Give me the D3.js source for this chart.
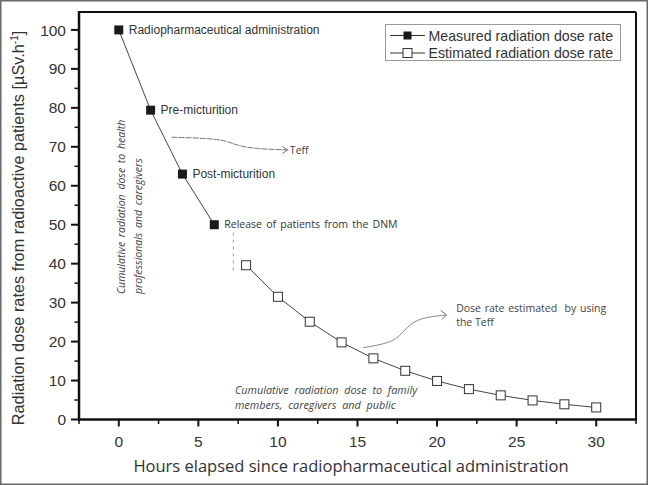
<!DOCTYPE html>
<html><head><meta charset="utf-8">
<script src="https://cdn.jsdelivr.net/npm/d3@7"></script>
<style>html,body{margin:0;padding:0;background:#fff;}svg{display:block;}</style>
</head><body>
<script>
// ---- data ----
const measuredHours = [0, 2, 4, 6];
const measuredRates = [100, 79.4, 63, 50];
const estimatedHours = [8, 10, 12, 14, 16, 18, 20, 22, 24, 26, 28, 30];
const estimatedRates = [39.6, 31.5, 25.1, 19.8, 15.7, 12.5, 9.9, 7.8, 6.2, 4.9, 3.9, 3.1];
const pointLabels = ["Radiopharmaceutical administration", "Pre-micturition", "Post-micturition", "Release of patients from the DNM"];
const xTickValues = [0, 5, 10, 15, 20, 25, 30];
const yTickValues = [0, 10, 20, 30, 40, 50, 60, 70, 80, 90, 100];
const seriesNames = ["Measured radiation dose rate", "Estimated radiation dose rate"];

const W = 648, H = 485;
const svg = d3.select("body").append("svg").attr("width", W).attr("height", H);

// outer frame
svg.append("rect").attr("x", 0.75).attr("y", 0.75).attr("width", W - 1.5).attr("height", H - 1.5)
  .attr("fill", "#fff").attr("stroke", "#6a6a6a").attr("stroke-width", 1.5);

const x = d3.scaleLinear().domain([-2.5, 32.5]).range([79, 636]);
const y = d3.scaleLinear().domain([0, 104.6]).range([419.5, 12]);

const textCol = "#333";
const lineCol = "#444";

// plot frame (top/right)
svg.append("line").attr("x1", 79).attr("x2", 636).attr("y1", 12).attr("y2", 12).attr("stroke", "#111").attr("stroke-width", 2);
svg.append("line").attr("x1", 636).attr("x2", 636).attr("y1", 12).attr("y2", 419.5).attr("stroke", "#111").attr("stroke-width", 2);

// x axis
const xMinor = d3.range(-2.5, 32.6, 2.5).filter(v => !xTickValues.includes(v));
const gx = svg.append("g").attr("transform", "translate(0,419.5)");
gx.append("line").attr("x1", 78).attr("x2", 637).attr("stroke", "#111").attr("stroke-width", 2.5);
gx.selectAll(".mj").data(xTickValues).join("line").attr("x1", d => x(d)).attr("x2", d => x(d))
  .attr("y1", 0).attr("y2", 7).attr("stroke", "#111").attr("stroke-width", 2);
gx.selectAll(".mn").data(xMinor).join("line").attr("x1", d => x(d)).attr("x2", d => x(d))
  .attr("y1", 0).attr("y2", 4.5).attr("stroke", "#111").attr("stroke-width", 1.5);
gx.selectAll("text").data(xTickValues).join("text").attr("x", d => x(d)).attr("y", 27)
  .attr("text-anchor", "middle").attr("font-family", "Liberation Sans, Arial, sans-serif")
  .attr("font-size", 15.5).attr("fill", textCol).text(d => d);

// y axis
const yMinor = d3.range(5, 101, 10);
const gy = svg.append("g").attr("transform", "translate(79,0)");
gy.append("line").attr("y1", 11).attr("y2", 420.5).attr("stroke", "#111").attr("stroke-width", 2.5);
gy.selectAll(".mj").data(yTickValues).join("line").attr("y1", d => y(d)).attr("y2", d => y(d))
  .attr("x1", 0).attr("x2", -8).attr("stroke", "#111").attr("stroke-width", 2);
gy.selectAll(".mn").data(yMinor).join("line").attr("y1", d => y(d)).attr("y2", d => y(d))
  .attr("x1", 0).attr("x2", -4.5).attr("stroke", "#111").attr("stroke-width", 1.5);
gy.selectAll("text").data(yTickValues).join("text").attr("x", -13).attr("y", d => y(d))
  .attr("dy", "0.36em").attr("text-anchor", "end").attr("font-family", "Liberation Sans, Arial, sans-serif")
  .attr("font-size", 15.5).attr("fill", textCol).text(d => d);

// axis titles
svg.append("text").attr("transform", "translate(24," + 228 + ") rotate(-90)")
  .attr("text-anchor", "middle").attr("font-family", "Liberation Sans, Arial, sans-serif")
  .attr("font-size", 16.3).attr("fill", textCol)
  .html('Radiation dose rates from radioactive patients [µSv.h<tspan dy="-6" font-size="10">-1</tspan><tspan dy="6">]</tspan>');
svg.append("text").attr("x", 351).attr("y", 472).attr("text-anchor", "middle")
  .attr("font-family", "Open Sans, sans-serif").attr("font-size", 16.5).attr("fill", textCol)
  .text("Hours elapsed since radiopharmaceutical administration");

// lines
const measured = measuredHours.map((h, i) => ({h, r: measuredRates[i]}));
const estimated = estimatedHours.map((h, i) => ({h, r: estimatedRates[i]}));
const line = d3.line().x(d => x(d.h)).y(d => y(d.r));
svg.append("path").datum(measured).attr("d", line).attr("fill", "none").attr("stroke", lineCol).attr("stroke-width", 1);
svg.append("path").datum(estimated).attr("d", line).attr("fill", "none").attr("stroke", lineCol).attr("stroke-width", 1);

// dashed separator
svg.append("line").attr("x1", x(7.2)).attr("x2", x(7.2)).attr("y1", y(48)).attr("y2", y(37.5))
  .attr("stroke", "#999").attr("stroke-width", 1).attr("stroke-dasharray", "3,4");

// markers
svg.selectAll(".ms").data(measured).join("rect")
  .attr("x", d => x(d.h) - 4.5).attr("y", d => y(d.r) - 4.5).attr("width", 9).attr("height", 9).attr("fill", "#1a1a1a");
svg.selectAll(".es").data(estimated).join("rect")
  .attr("x", d => x(d.h) - 4.5).attr("y", d => y(d.r) - 4.5).attr("width", 9).attr("height", 9)
  .attr("fill", "#fff").attr("stroke", "#333").attr("stroke-width", 1);

// point labels
const lblFonts = [12, 12, 12, 10.5];
svg.selectAll(".pl").data(measured).join("text")
  .attr("x", (d, i) => x(d.h) + 10)
  .attr("y", d => y(d.r)).attr("dy", "0.35em")
  .attr("font-family", (d, i) => i === 3 ? "Open Sans, sans-serif" : "Liberation Sans, Arial, sans-serif")
  .attr("font-size", (d, i) => lblFonts[i]).attr("fill", textCol)
  .attr("word-spacing", (d, i) => i === 3 ? 1.5 : 0)
  .text((d, i) => pointLabels[i]);

// annotations
const ann = svg.append("g").attr("font-family", "Open Sans, sans-serif").attr("fill", "#444");
const curve = d3.line().x(d => x(d[0])).y(d => y(d[1])).curve(d3.curveBasis);
const teffPts = [[3.32, 72.45], [5.5, 72.2], [6.78, 71.6], [7.41, 70.3], [8.67, 69.45], [10.6, 69.2]];
ann.append("path").attr("d", curve(teffPts)).attr("fill", "none").attr("stroke", "#777").attr("stroke-width", 1)
  .attr("stroke-dasharray", "6,1");
const tipT = [x(10.6), y(69.2)];
ann.append("path").attr("d", `M${tipT[0] - 5},${tipT[1] - 3.5} L${tipT[0]},${tipT[1]} L${tipT[0] - 5},${tipT[1] + 3.5}`)
  .attr("fill", "none").attr("stroke", "#666").attr("stroke-width", 1);
ann.append("text").attr("x", x(10.75)).attr("y", y(69.2)).attr("dy", "0.35em").attr("font-size", 10.5).text("Teff");

const dosePts = [[15.36, 18.43], [16.6, 19.3], [17.5, 20.6], [18.1, 23.8], [18.9, 26.1], [20.6, 26.85]];
ann.append("path").attr("d", curve(dosePts)).attr("fill", "none").attr("stroke", "#888").attr("stroke-width", 1);
const tipD = [x(20.6), y(26.85)];
ann.append("path").attr("d", `M${tipD[0] - 6},${tipD[1] - 4.5} L${tipD[0]},${tipD[1]} L${tipD[0] - 5},${tipD[1] + 4.5}`)
  .attr("fill", "none").attr("stroke", "#777").attr("stroke-width", 1);
ann.append("text").attr("x", x(21.2)).attr("y", y(28.6)).attr("dy", "0.35em").attr("font-size", 10.5)
  .attr("word-spacing", 1).text("Dose rate estimated  by using").attr("xml:space", "preserve");
ann.append("text").attr("x", x(21.2)).attr("y", y(25.0)).attr("dy", "0.35em").attr("font-size", 10.5).text("the Teff");

ann.append("text").attr("x", x(7.3)).attr("y", y(7.6)).attr("dy", "0.35em").attr("font-size", 10.8)
  .attr("font-style", "italic").attr("word-spacing", 3).text("Cumulative radiation dose to family");
ann.append("text").attr("x", x(7.3)).attr("y", y(3.7)).attr("dy", "0.35em").attr("font-size", 10.8)
  .attr("font-style", "italic").attr("word-spacing", 3).text("members, caregivers and public");

ann.append("text").attr("transform", `translate(${x(0.14)},${y(32.2)}) rotate(-90)`).attr("dy", "0.35em")
  .attr("font-size", 10.5).attr("font-style", "italic").attr("word-spacing", 2).text("Cumulative radiation dose to health");
ann.append("text").attr("transform", `translate(${x(1.2)},${y(32.2)}) rotate(-90)`).attr("dy", "0.35em")
  .attr("font-size", 10.5).attr("font-style", "italic").attr("word-spacing", 2).text("professionals and caregivers");

// legend
const lg = svg.append("g");
lg.append("rect").attr("x", 385.5).attr("y", 24.5).attr("width", 235).attr("height", 36)
  .attr("fill", "#fff").attr("stroke", "#999").attr("stroke-width", 1);
seriesNames.forEach((name, i) => {
  const yy = 35.5 + i * 17.5;
  lg.append("line").attr("x1", 390).attr("x2", 425).attr("y1", yy).attr("y2", yy).attr("stroke", "#333").attr("stroke-width", 1);
  if (i === 0) {
    lg.append("rect").attr("x", 403.5).attr("y", yy - 4).attr("width", 8).attr("height", 8).attr("fill", "#1a1a1a");
  } else {
    lg.append("rect").attr("x", 403).attr("y", yy - 4.5).attr("width", 9).attr("height", 9)
      .attr("fill", "#fff").attr("stroke", "#333").attr("stroke-width", 1);
  }
  lg.append("text").attr("x", 428.5).attr("y", yy).attr("dy", "0.36em")
    .attr("font-family", "Liberation Sans, Arial, sans-serif").attr("font-size", 14.2).attr("fill", textCol).text(name);
});
</script>
</body></html>
